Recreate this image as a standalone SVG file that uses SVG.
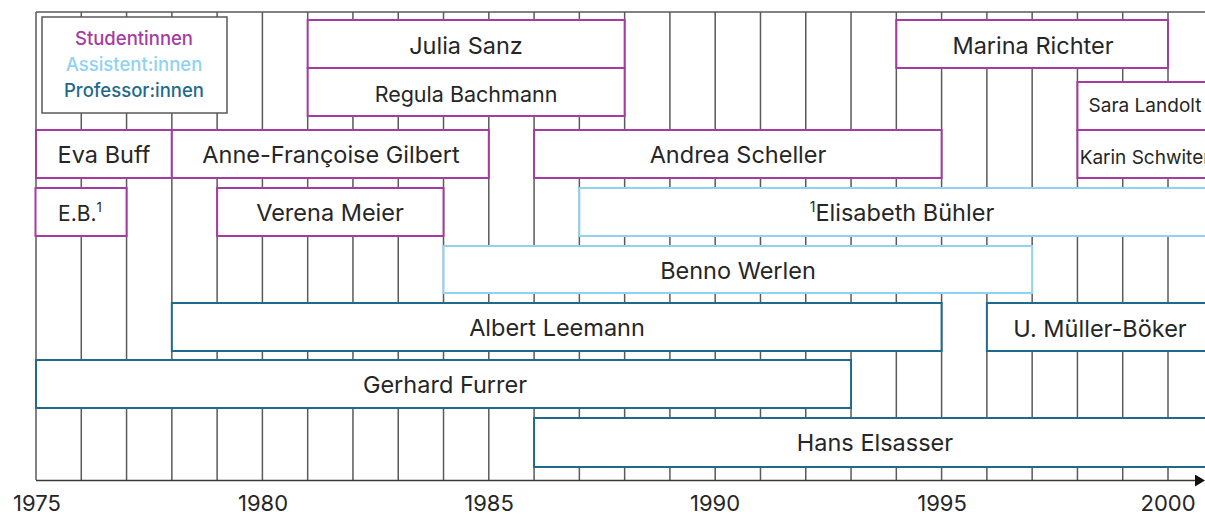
<svg xmlns="http://www.w3.org/2000/svg" width="1205" height="515" viewBox="0 0 1205 515">
  <style>
    .grid { stroke: #5a5a5a; stroke-width: 1.5; fill: none; }
    .box { fill: #ffffff; stroke-width: 2; }
    .stud { stroke: #a43ca2; }
    .assi { stroke: #8fd2f2; }
    .prof { stroke: #1f6a8c; }
    .lbl { font-family: Inter, "Liberation Sans", sans-serif; fill: #262626; text-anchor: middle; }
    .big { font-size: 23.5px; }
    .mid { font-size: 21.5px; }
    .sml { font-size: 19px; }
    .year { font-family: Inter, "Liberation Sans", sans-serif; font-size: 22px; fill: #262626; text-anchor: middle; }
    .leg { font-family: Inter, "Liberation Sans", sans-serif; font-size: 18.5px; text-anchor: middle; font-weight: 500; }
  </style>
  <defs>
    <marker id="arrow" markerUnits="userSpaceOnUse" viewBox="0 0 10 12" markerWidth="10" markerHeight="12" refX="0" refY="6" orient="auto">
      <path d="M0,0 L10,6 L0,12 z" fill="#111"/>
    </marker>
  </defs>
  <rect width="1205" height="515" fill="#ffffff"/>

  <g id="grid">
    <path class="grid" d="M36,12 H1205 M36,12 V480 M81.28,12 V480 M126.56,12 V480 M171.84,12 V480 M217.12,12 V480 M262.4,12 V480 M307.68,12 V480 M352.96,12 V480 M398.24,12 V480 M443.52,12 V480 M488.8,12 V480 M534.08,12 V480 M579.36,12 V480 M624.64,12 V480 M669.92,12 V480 M715.2,12 V480 M760.48,12 V480 M805.76,12 V480 M851.04,12 V480 M896.32,12 V480 M941.6,12 V480 M986.88,12 V480 M1032.16,12 V480 M1077.44,12 V480 M1122.72,12 V480 M1168,12 V480"/>
  </g>

  <g id="connectors">
    <line x1="36" y1="480.5" x2="1195" y2="480.5" stroke="#3a3a3a" stroke-width="1.5" marker-end="url(#arrow)"/>
  </g>

  <g id="years">
    <text class="year" x="37" y="511">1975</text>
    <text class="year" x="263" y="511">1980</text>
    <text class="year" x="489" y="511">1985</text>
    <text class="year" x="715" y="511">1990</text>
    <text class="year" x="942" y="511">1995</text>
    <text class="year" x="1168" y="511">2000</text>
  </g>

  <g id="legend">
    <rect x="42" y="17" width="185" height="96" fill="#ffffff" stroke="#5a5a5a" stroke-width="1.5"/>
    <text class="leg" x="134" y="45" fill="#a43ca2">Studentinnen</text>
    <text class="leg" x="134" y="71" fill="#8fd2f2">Assistent:innen</text>
    <text class="leg" x="134" y="97" fill="#1f6a8c">Professor:innen</text>
  </g>

  <g id="julia-sanz">
    <rect class="box stud" x="307.68" y="20" width="316.96" height="48"/>
    <text class="lbl big" x="466" y="54">Julia Sanz</text>
  </g>
  <g id="regula-bachmann">
    <rect class="box stud" x="307.68" y="68" width="316.96" height="48"/>
    <text class="lbl mid" x="466" y="102">Regula Bachmann</text>
  </g>
  <g id="marina-richter">
    <rect class="box stud" x="896.32" y="20" width="271.68" height="48"/>
    <text class="lbl big" x="1033" y="54">Marina Richter</text>
  </g>
  <g id="sara-landolt">
    <rect class="box stud" x="1077.44" y="82" width="140" height="48"/>
    <text class="lbl sml" x="1145" y="112">Sara Landolt</text>
  </g>
  <g id="karin-schwiter">
    <rect class="box stud" x="1077.44" y="130" width="140" height="48"/>
    <text class="lbl sml" x="1145" y="164">Karin Schwiter</text>
  </g>
  <g id="eva-buff">
    <rect class="box stud" x="36" y="130" width="135.84" height="48"/>
    <text class="lbl big" x="104" y="163">Eva Buff</text>
  </g>
  <g id="anne-francoise-gilbert">
    <rect class="box stud" x="171.84" y="130" width="316.96" height="48"/>
    <text class="lbl big" x="331" y="163">Anne-Françoise Gilbert</text>
  </g>
  <g id="andrea-scheller">
    <rect class="box stud" x="534.08" y="130" width="407.52" height="48"/>
    <text class="lbl big" x="738" y="163">Andrea Scheller</text>
  </g>
  <g id="eb">
    <rect class="box stud" x="35.5" y="188" width="91.06" height="48"/>
    <text class="lbl" font-size="21" x="80" y="221">E.B.<tspan font-size="13" dy="-9">1</tspan></text>
  </g>
  <g id="verena-meier">
    <rect class="box stud" x="217.12" y="188" width="226.4" height="48"/>
    <text class="lbl big" x="330" y="221">Verena Meier</text>
  </g>
  <g id="elisabeth-buehler">
    <rect class="box assi" x="579.36" y="188" width="650" height="48"/>
    <text class="lbl big" x="902" y="221"><tspan font-size="14" dy="-9">1</tspan><tspan dy="9">Elisabeth Bühler</tspan></text>
  </g>
  <g id="benno-werlen">
    <rect class="box assi" x="443.52" y="246" width="588.64" height="47"/>
    <text class="lbl big" x="738" y="279">Benno Werlen</text>
  </g>
  <g id="albert-leemann">
    <rect class="box prof" x="171.84" y="303" width="769.76" height="48"/>
    <text class="lbl big" x="557" y="336">Albert Leemann</text>
  </g>
  <g id="mueller-boeker">
    <rect class="box prof" x="986.88" y="303" width="240" height="48"/>
    <text class="lbl big" x="1100" y="337">U. Müller-Böker</text>
  </g>
  <g id="gerhard-furrer">
    <rect class="box prof" x="36" y="360" width="815.04" height="48"/>
    <text class="lbl big" x="445" y="393">Gerhard Furrer</text>
  </g>
  <g id="hans-elsasser">
    <rect class="box prof" x="534.08" y="418" width="700" height="49"/>
    <text class="lbl big" x="875" y="451">Hans Elsasser</text>
  </g>
</svg>
